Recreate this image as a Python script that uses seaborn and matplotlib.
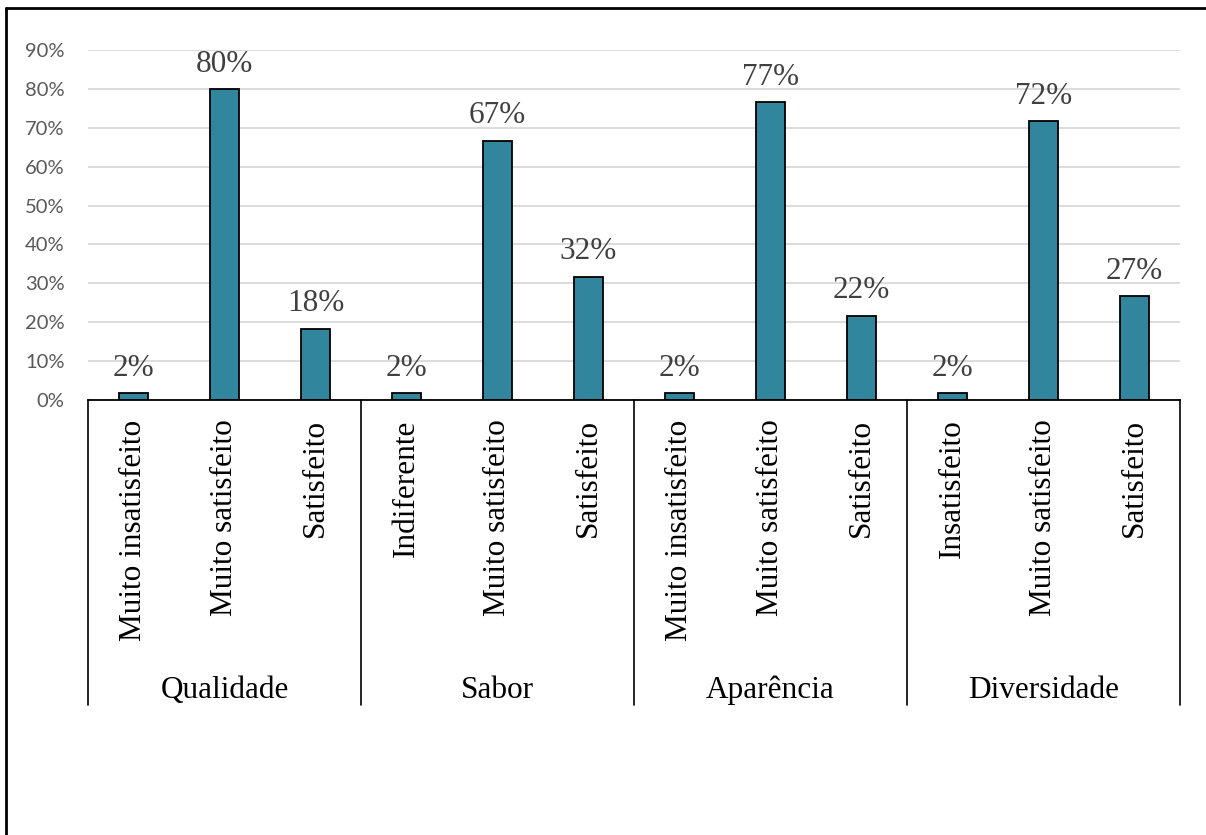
import matplotlib
matplotlib.use("Agg")
import matplotlib.pyplot as plt
from matplotlib.lines import Line2D
from matplotlib.ticker import FuncFormatter
import seaborn as sns
import pandas as pd

# Satisfaction survey: share of answers per attribute (%)
grupos = ["Qualidade", "Sabor", "Aparência", "Diversidade"]
respostas = [
    ["Muito insatisfeito", "Muito satisfeito", "Satisfeito"],
    ["Indiferente", "Muito satisfeito", "Satisfeito"],
    ["Muito insatisfeito", "Muito satisfeito", "Satisfeito"],
    ["Insatisfeito", "Muito satisfeito", "Satisfeito"],
]
percentuais = [
    [1.67, 80.00, 18.33],
    [1.67, 66.67, 31.67],
    [1.67, 76.67, 21.67],
    [1.67, 71.67, 26.67],
]
yticks = [0, 10, 20, 30, 40, 50, 60, 70, 80, 90]

rows = []
for g, resp, vals in zip(grupos, respostas, percentuais):
    for r, v in zip(resp, vals):
        rows.append({"grupo": g, "resposta": r, "chave": f"{g}|{r}", "valor": v})
df = pd.DataFrame(rows)
ordem = list(df["chave"])

sns.set_theme(style="white")
serif = ["Liberation Serif", "DejaVu Serif"]
sans = ["Lato", "DejaVu Sans"]

fig = plt.figure(figsize=(12.06, 8.35), dpi=100)
ax = fig.add_axes([0.073, 0.521, 0.9055, 0.419])

sns.barplot(data=df, x="chave", y="valor", order=ordem, color="#31859C",
            saturation=1, width=0.32, edgecolor="black", linewidth=1.3, ax=ax)

ax.set_ylim(0, 90)
ax.set_xlim(-0.5, len(ordem) - 0.5)
ax.set_yticks(yticks)
ax.yaxis.set_major_formatter(FuncFormatter(lambda v, _: f"{v:.0f}%"))
ax.grid(axis="y", color="#d9d9d9", linewidth=1.3)
ax.set_axisbelow(True)
for s in ["top", "right", "left"]:
    ax.spines[s].set_visible(False)
ax.spines["bottom"].set_color("black")
ax.spines["bottom"].set_linewidth(1.3)
ax.set_xlabel("")
ax.set_ylabel("")

ax.tick_params(axis="y", length=0, pad=17, labelsize=14.5, labelcolor="#595959")
for t in ax.get_yticklabels():
    t.set_family(sans)

ax.set_xticks(range(len(ordem)))
ax.set_xticklabels(list(df["resposta"]), rotation=90, family=serif,
                   fontsize=22.5, color="black", va="top", ha="center")
ax.tick_params(axis="x", length=0, pad=14)

# value labels above bars
for i, v in enumerate(df["valor"]):
    ax.annotate(f"{v:.0f}%", xy=(i, v), xytext=(0, 12.5), textcoords="offset points",
                ha="center", va="baseline", family=serif, fontsize=22.5,
                color="#404040")

# group separators and group names below the category labels
trans = ax.get_xaxis_transform()
n = len(respostas[0])
for k in range(len(grupos) + 1):
    xb = k * n - 0.5
    ax.add_line(Line2D([xb, xb], [0, -0.871], transform=trans, color="black",
                       linewidth=1.2, clip_on=False))
for k, g in enumerate(grupos):
    ax.text(k * n + (n - 1) / 2, -0.83, g, transform=trans, ha="center",
            va="center", family=serif, fontsize=22.5, color="black")

# outer frame (left and top edges)
fig.add_artist(Line2D([0.005, 0.005], [0, 0.991], transform=fig.transFigure,
                      color="black", linewidth=2))
fig.add_artist(Line2D([0.005, 1.0], [0.991, 0.991], transform=fig.transFigure,
                      color="black", linewidth=2))

fig.savefig("out.png", dpi=100, facecolor="white")
